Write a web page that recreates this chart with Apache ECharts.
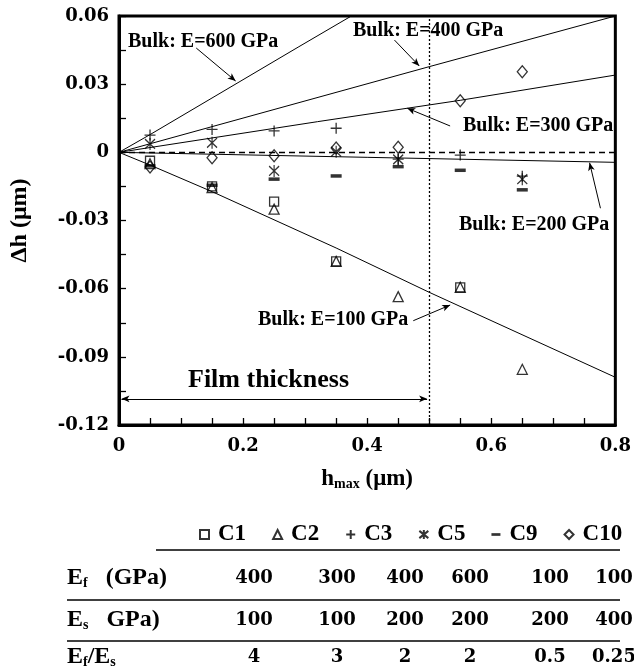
<!DOCTYPE html>
<html>
<head>
<meta charset="utf-8">
<script src="https://cdn.jsdelivr.net/npm/echarts@6/dist/echarts.min.js"></script>
<style>
  html, body { margin: 0; background: #fff; }
  #chart { width: 634px; height: 672px; }
</style>
</head>
<body>
<div id="chart"></div>
<script>
// measured depth difference at each indentation depth
var hmax = [0.05, 0.15, 0.25, 0.35, 0.45, 0.55, 0.65];
var c1  = [-0.0037, -0.015, -0.0217, -0.048, null, -0.0594, null];
var c2  = [-0.005, -0.0155, -0.025, -0.048, -0.0635, -0.0594, -0.0955];
var c3  = [0.0076, 0.0101, 0.0094, 0.0106, -0.003, -0.0012, -0.0105];
var c5  = [0.0037, 0.0042, -0.0082, 0.0003, -0.0031, null, -0.0118];
var c9  = [-0.006, -0.0145, -0.0118, -0.0104, -0.0063, -0.0079, -0.0165];
var c10 = [-0.0065, -0.0024, -0.0015, 0.0019, 0.0022, 0.0227, 0.0355];

// bulk reference curves [h, dh]
var bulk600 = [[0, 0], [0.05, 0.0078], [0.29, 0.0465], [0.382, 0.0612]];
var bulk400 = [[0, 0], [0.5, 0.0377], [0.8, 0.06]];
var bulk300 = [[0, 0], [0.32, 0.0135], [0.55, 0.0229], [0.8, 0.034]];
var bulk200 = [[0, 0], [0.4, -0.0022], [0.8, -0.0044]];
var bulk100 = [[0, 0], [0.05, -0.0056], [0.15, -0.0173], [0.35, -0.0421], [0.5, -0.0616], [0.8, -0.099]];

var filmThickness = 0.5;

// table under the chart
var caseNames = ['C1', 'C2', 'C3', 'C5', 'C9', 'C10'];
var filmE = ['400', '300', '400', '600', '100', '100'];
var subE = ['100', '100', '200', '200', '200', '400'];
var ratioE = ['4', '3', '2', '2', '0.5', '0.25'];

var xTicks = ['0', '0.2', '0.4', '0.6', '0.8'];
var yTicks = ['-0.12', '-0.09', '-0.06', '-0.03', '0', '0.03', '0.06'];

var serif = 'Liberation Serif';
var numFont = 'DejaVu Serif';

function pairs(vals) {
  var out = [];
  hmax.forEach(function (x, i) {
    if (vals[i] != null) out.push([x, vals[i]]);
  });
  return out;
}

var hollow = { color: 'rgba(0,0,0,0)', borderColor: '#000', borderWidth: 1.3 };

function marks(name, vals, symbol, size, style) {
  return {
    name: name, type: 'scatter', data: pairs(vals),
    symbol: symbol, symbolSize: size, itemStyle: style,
    emphasis: { disabled: true }, z: 4
  };
}

function bulk(data, arrow) {
  var s = {
    type: 'line', data: data, showSymbol: false, clip: true,
    lineStyle: { color: '#000', width: 1 }, emphasis: { disabled: true }, z: 3
  };
  if (arrow) {
    s.markLine = {
      silent: true, symbol: ['none', 'arrow'], symbolSize: [5, 8],
      label: { show: false }, lineStyle: { color: '#000', width: 1, type: 'solid' },
      data: [[{ coord: arrow[0] }, { coord: arrow[1] }]]
    };
  }
  return s;
}

var plus = 'path://M5 0L5 10M0 5L10 5';
var star = 'path://M0 1L10 9M10 1L0 9M5 0L5 10';
var dash = 'path://M0 0h10v3h-10z';

var chart = echarts.init(document.getElementById('chart'));

var rowLabel = {
  fontFamily: serif, fontWeight: 'bold', fontSize: 24, fill: '#000',
  rich: {
    s: { fontFamily: serif, fontWeight: 'bold', fontSize: 14, verticalAlign: 'bottom', padding: [9, 0, 0, 0] },
    n: { fontFamily: serif, fontWeight: 'bold', fontSize: 24 }
  }
};

var colX = [254, 337, 405, 470, 550, 614];
var graphics = [];

function addText(x, y, text, size, align, family) {
  graphics.push({
    type: 'text', x: x, y: y, silent: true,
    style: {
      text: text, fontFamily: family || serif, fontWeight: 'bold', fontSize: size,
      fill: '#000', align: align || 'left', verticalAlign: 'middle'
    }
  });
}
function addRule(x1, x2, y) {
  graphics.push({
    type: 'line', silent: true, shape: { x1: x1, y1: y, x2: x2, y2: y },
    style: { stroke: '#000', lineWidth: 1.5 }
  });
}

addText(128, 42, 'Bulk: E=600 GPa', 20);
addText(353, 31, 'Bulk: E=400 GPa', 20);
addText(463, 126, 'Bulk: E=300 GPa', 20);
addText(459, 225, 'Bulk: E=200 GPa', 20);
addText(258, 320, 'Bulk: E=100 GPa', 20);
addText(188, 380, 'Film thickness', 26);

addRule(156, 620, 550);
addRule(67, 620, 600);
addRule(67, 620, 641);

var rows = [
  { y: 578, label: '{n|E}{s|f}{n|   (GPa)}', vals: filmE },
  { y: 620, label: '{n|E}{s|s}{n|   GPa)}', vals: subE },
  { y: 657, label: '{n|E}{s|f}{n|/E}{s|s}', vals: ratioE }
];
rows.forEach(function (r) {
  graphics.push({
    type: 'text', x: 67, y: r.y, silent: true,
    style: Object.assign({ text: r.label, verticalAlign: 'middle' }, rowLabel)
  });
  r.vals.forEach(function (v, i) { addText(colX[i], r.y, v, 18, 'center', numFont); });
});

chart.setOption({
  animation: false,
  grid: { left: 119, right: 14, top: 16, bottom: 247, show: true, borderColor: '#000', borderWidth: 3 },
  legend: {
    left: 199, top: 523, width: 435, padding: 0, itemWidth: 9, itemHeight: 9, itemGap: 26,
    textStyle: { fontFamily: serif, fontWeight: 'bold', fontSize: 23, color: '#000', padding: [0, 0, 0, 4] },
    data: [
      { name: caseNames[0] }, { name: caseNames[1] }, { name: caseNames[2] }, { name: caseNames[3] },
      { name: caseNames[4], icon: dash }, { name: caseNames[5] }
    ]
  },
  xAxis: {
    type: 'value', min: 0, max: 0.8, interval: 0.2,
    name: 'h{s|max} (μm)', nameLocation: 'middle', nameGap: 42,
    nameTextStyle: {
      fontFamily: serif, fontWeight: 'bold', fontSize: 23, color: '#000',
      rich: { s: { fontFamily: serif, fontWeight: 'bold', fontSize: 14, verticalAlign: 'bottom', padding: [10, 0, 0, 0] } }
    },
    axisLine: { onZero: false, lineStyle: { color: '#000', width: 3 } },
    axisTick: { inside: true, length: 7, lineStyle: { color: '#000', width: 1.3 } },
    minorTick: { show: true, splitNumber: 4, length: 7, lineStyle: { color: '#000', width: 1.3 } },
    splitLine: { show: false },
    axisLabel: {
      margin: 12, fontFamily: numFont, fontWeight: 'bold', fontSize: 18, color: '#000',
      formatter: function (v) { return xTicks[Math.round(v / 0.2)]; }
    }
  },
  yAxis: {
    type: 'value', min: -0.12, max: 0.06, interval: 0.03,
    name: 'Δh (μm)', nameLocation: 'middle', nameGap: 87, nameRotate: 90,
    nameTextStyle: { fontFamily: serif, fontWeight: 'bold', fontSize: 24, color: '#000' },
    axisLine: { onZero: false, lineStyle: { color: '#000', width: 3 } },
    axisTick: { inside: true, length: 7, lineStyle: { color: '#000', width: 1.3 } },
    minorTick: { show: true, splitNumber: 2, length: 7, lineStyle: { color: '#000', width: 1.3 } },
    splitLine: { show: false },
    axisLabel: {
      margin: 10, fontFamily: numFont, fontWeight: 'bold', fontSize: 18, color: '#000',
      formatter: function (v) { return yTicks[Math.round((v + 0.12) / 0.03)]; }
    }
  },
  series: [
    {
      type: 'line', data: [], silent: true,
      markLine: {
        silent: true, symbol: 'none', label: { show: false }, animation: false,
        data: [
          { yAxis: 0, lineStyle: { color: '#000', width: 1.3, type: [6, 4] } },
          { xAxis: filmThickness, lineStyle: { color: '#000', width: 1.3, type: [2, 2] } }
        ]
      }
    },
    {
      type: 'line', data: [], silent: true,
      markLine: {
        silent: true, symbol: ['arrow', 'arrow'], symbolSize: [5, 8], label: { show: false },
        lineStyle: { color: '#000', width: 1, type: 'solid' },
        data: [[{ coord: [0.004, -0.1085] }, { coord: [0.4966, -0.1085] }]]
      }
    },
    bulk(bulk600, [[0.1245, 0.0459], [0.188, 0.0314]]),
    bulk(bulk400, [[0.444, 0.0494], [0.484, 0.038]]),
    bulk(bulk300, [[0.5337, 0.0116], [0.4647, 0.0194]]),
    bulk(bulk200, [[0.776, -0.0246], [0.7585, -0.0046]]),
    bulk(bulk100, [[0.4743, -0.0741], [0.5338, -0.0672]]),
    marks('C2', c2, 'triangle', [10, 10], hollow),
    marks('C1', c1, 'rect', 9, hollow),
    marks('C3', c3, plus, 11, hollow),
    marks('C5', c5, star, [10, 12], hollow),
    marks('C9', c9, 'rect', [11, 3.5], { color: '#000' }),
    marks('C10', c10, 'diamond', [10, 12], hollow)
  ],
  graphic: graphics
});
</script>
</body>
</html>
